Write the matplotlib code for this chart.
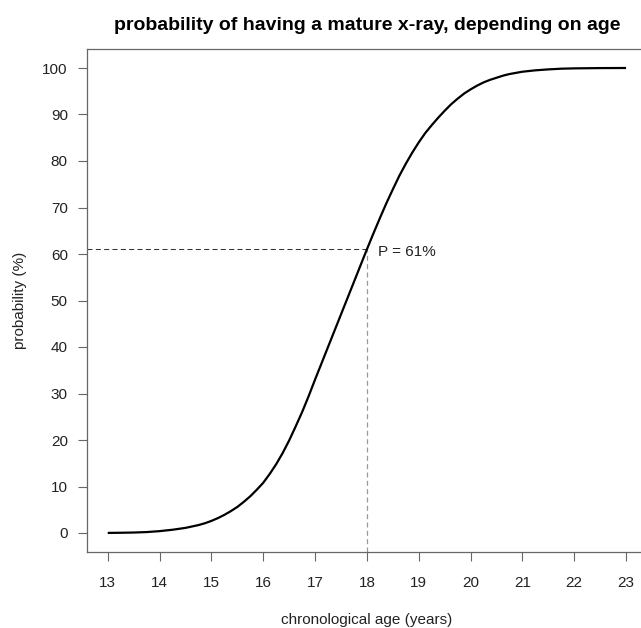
import matplotlib
matplotlib.use("Agg")
import matplotlib.pyplot as plt

age = [13.0, 13.25, 13.5, 13.75, 14.0, 14.25, 14.5, 14.625, 14.75, 14.875,
       15.0, 15.125, 15.25, 15.375, 15.5, 15.625, 15.75, 15.875,
       16.0, 16.125, 16.25, 16.375, 16.5, 16.625, 16.75, 16.875,
       17.0, 17.125, 17.25, 17.375, 17.5, 17.75, 18.0, 18.125, 18.25, 18.375,
       18.5, 18.625, 18.75, 18.875, 19.0, 19.125, 19.25, 19.375,
       19.5, 19.625, 19.75, 19.875, 20.0, 20.125, 20.25, 20.375,
       20.5, 20.625, 20.75, 21.0, 21.25, 21.5, 21.75, 22.0, 22.5, 23.0]
prob = [0.02, 0.05, 0.1, 0.2, 0.4, 0.7, 1.1, 1.4, 1.7, 2.1,
        2.6, 3.2, 3.9, 4.7, 5.6, 6.7, 7.9, 9.3,
        10.8, 12.7, 14.8, 17.2, 19.9, 22.9, 26.0, 29.4,
        33.0, 36.5, 40.0, 43.5, 47.0, 54.0, 61.0, 64.4, 67.7, 70.9,
        73.9, 76.8, 79.4, 81.8, 84.0, 86.0, 87.7, 89.3,
        90.8, 92.2, 93.4, 94.5, 95.4, 96.2, 96.9, 97.45,
        97.9, 98.35, 98.7, 99.2, 99.5, 99.7, 99.85, 99.92, 99.98, 100.0]
x_ticks = list(range(13, 24))
y_ticks = list(range(0, 101, 10))
mark_age = 18
mark_prob = 61
title = "probability of having a mature x-ray, depending on age"
xlabel = "chronological age (years)"
ylabel = "probability (%)"

plt.rcParams['font.family'] = ['Liberation Sans', 'DejaVu Sans']
plt.rcParams['lines.scale_dashes'] = False

W, H = 641, 628
fig = plt.figure(figsize=(W / 100, H / 100), dpi=100)
left, right, bottom, top = 87, 646.8, 551.6, 49.4
ax = fig.add_axes([left / W, 1 - bottom / H, (right - left) / W, (bottom - top) / H])

ax.set_xlim(12.6, 23.4)
ax.set_ylim(-4, 104)

ax.plot(age, prob, color='black', lw=1.6, solid_joinstyle='round',
        solid_capstyle='butt', zorder=3)
ax.plot([12.6, mark_age], [mark_prob, mark_prob], color='#333333', lw=0.75,
        dashes=(3.6, 2.4), zorder=2)
ax.plot([mark_age, mark_age], [-4, mark_prob], color='#999999', lw=0.9,
        dashes=(3.6, 2.4), zorder=2)
ax.text(18.22, mark_prob - 0.5, f"P = {mark_prob}%", ha='left', va='center',
        fontsize=11, color='#222222')

box_c = '#666666'
for s in ['left', 'bottom', 'top', 'right']:
    ax.spines[s].set_color(box_c)
    ax.spines[s].set_linewidth(0.9)

ax.set_xticks(x_ticks)
ax.set_yticks(y_ticks)
ax.tick_params(axis='both', direction='out', length=6.8, width=0.8, color=box_c,
               labelsize=11, labelcolor='#222222')
ax.tick_params(axis='x', pad=10.5)
ax.tick_params(axis='y', pad=7.0)

fig.text(367 / W, 1 - 25 / H, title, ha='center', va='center', fontsize=14,
         fontweight='bold', color='black')
fig.text(367 / W, 1 - 620 / H, xlabel, ha='center', va='center', fontsize=11,
         color='#222222')
fig.text(20 / W, 1 - 300 / H, ylabel, ha='center', va='center', rotation=90,
         fontsize=11, color='#222222')

fig.savefig("out.png", dpi=100)
